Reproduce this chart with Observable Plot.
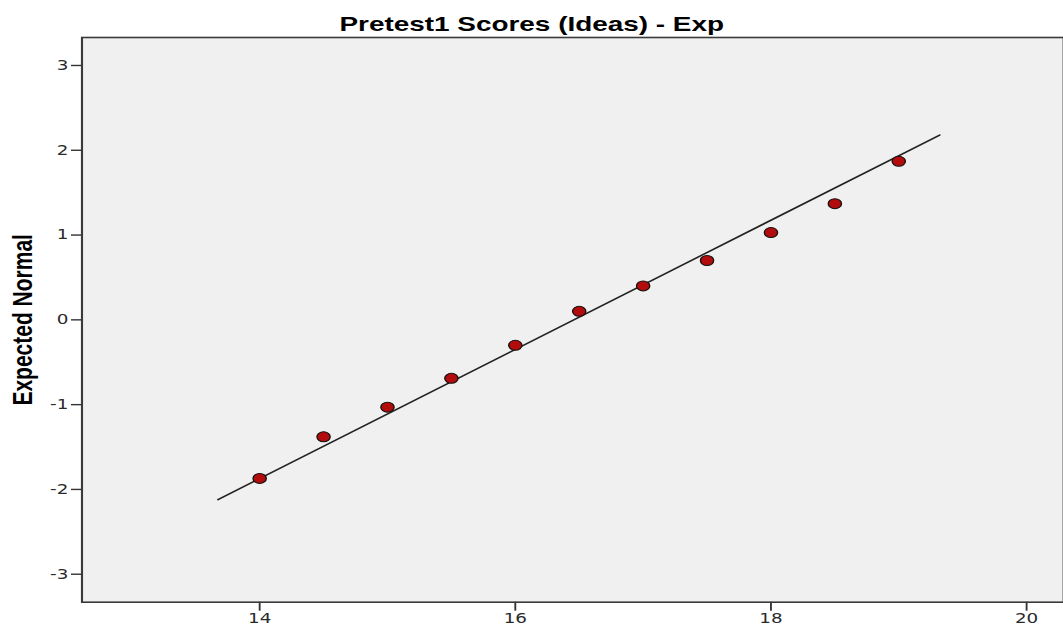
<!DOCTYPE html>
<html>
<head>
<meta charset="utf-8">
<script src="https://cdn.jsdelivr.net/npm/d3@7"></script>
<script src="https://cdn.jsdelivr.net/npm/@observablehq/plot@0.6"></script>
<style>
  html, body { margin: 0; padding: 0; background: #fff; overflow: hidden; }
  #wrap { position: relative; width: 1063px; height: 629px; }
  #title { position: absolute; left: 0; top: 12.4px; width: 1063px; text-align: center;
           font: bold 21px "Liberation Sans", Arial, sans-serif; line-height: 24px; color: #000; }
  #title span { display: inline-block; transform: scaleX(1.32875); transform-origin: center; }
  #chart svg { display: block; }
</style>
</head>
<body>
<div id="wrap">
  <div id="chart"></div>
  <div id="title"><span>Pretest1 Scores (Ideas) - Exp</span></div>
</div>
<script>
// Observed values (Pretest1 Scores) and their expected normal values
const scores   = [14, 14.5, 15, 15.5, 16, 16.5, 17, 17.5, 18, 18.5, 19];
const expected = [-1.87, -1.38, -1.03, -0.69, -0.30, 0.10, 0.40, 0.70, 1.03, 1.37, 1.87];
// Reference normal line endpoints
const lineX = [13.674, 19.32];
const lineY = [-2.12, 2.18];
// Axis ticks
const xTicks = [14, 16, 18, 20];
const yTicks = [-3, -2, -1, 0, 1, 2, 3];
const yLabel = "Expected Normal";

const points = scores.map((s, i) => ({x: s, y: expected[i]}));
const refLine = lineX.map((x, i) => ({x, y: lineY[i]}));

const STRETCH = 1.32875;       // horizontal stretch of the reference image
const W = 800, H = 629;

const chart = Plot.plot({
  width: W,
  height: H,
  marginLeft: 61.2,
  marginRight: 0,
  marginTop: 37,
  marginBottom: 27.3,
  style: {fontFamily: "'DejaVu Sans', sans-serif", fontSize: "13.8px", color: "#2a2a2a", background: "transparent"},
  x: {domain: [12.61, 20.29], ticks: xTicks, label: null},
  y: {domain: [-3.33, 3.33], ticks: yTicks, label: null},
  marks: [
    Plot.frame({fill: "#f0f0f0", stroke: null}),
    Plot.axisX({ticks: xTicks, tickSize: 9, tickPadding: 2, stroke: "#333", strokeWidth: 1.4, label: null, tickFormat: d => String(d)}),
    Plot.axisY({ticks: yTicks, tickSize: 7.8, tickPadding: 2.5, stroke: "#333", strokeWidth: 1.4, label: null, tickFormat: d => String(d)}),
    Plot.line(refLine, {x: "x", y: "y", stroke: "#222", strokeWidth: 1.5}),
    Plot.dot(points, {x: "x", y: "y", r: 5, fill: "#b20c0c", stroke: "#111", strokeWidth: 1}),
    Plot.frame({stroke: "#3a3a3a", strokeWidth: 1.6}),
    Plot.text([yLabel], {frameAnchor: "left", text: d => d, rotate: -90, dx: -44.6,
      fontSize: 21, fontWeight: "bold", fontFamily: "'Liberation Sans', Arial, sans-serif",
      fill: "#000", textAnchor: "middle", lineAnchor: "middle"})
  ]
});

chart.setAttribute("viewBox", `0 0 ${W} ${H}`);
chart.setAttribute("width", Math.round(W * STRETCH * 1000) / 1000);
chart.setAttribute("height", H);
chart.setAttribute("preserveAspectRatio", "none");
chart.style.maxWidth = "none";
document.getElementById("chart").appendChild(chart);
</script>
</body>
</html>
